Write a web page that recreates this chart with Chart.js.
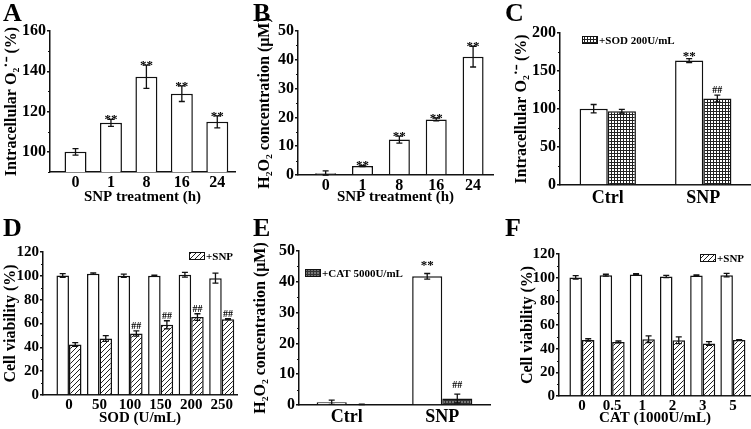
<!DOCTYPE html>
<html>
<head>
<meta charset="utf-8">
<script src="https://cdn.jsdelivr.net/npm/chart.js@4.4.1/dist/chart.umd.min.js"></script>
<style>
  body { margin: 0; background: #fff; }
  #fig { position: relative; width: 751px; height: 429px; overflow: hidden; background: #fff; }
  .panel { position: absolute; }
  .letter { position: absolute; font: bold 26px "Liberation Serif", serif; line-height: 1; color: #000; }
</style>
</head>
<body>
<div id="fig">
  <canvas class="panel" id="chartA" width="250" height="214" style="left:0;top:0"></canvas>
  <canvas class="panel" id="chartB" width="250" height="214" style="left:250px;top:0"></canvas>
  <canvas class="panel" id="chartC" width="251" height="214" style="left:500px;top:0"></canvas>
  <canvas class="panel" id="chartD" width="250" height="215" style="left:0;top:214px"></canvas>
  <canvas class="panel" id="chartE" width="250" height="215" style="left:250px;top:214px"></canvas>
  <canvas class="panel" id="chartF" width="251" height="215" style="left:500px;top:214px"></canvas>
  <div class="letter" style="left:3px;top:0">A</div>
  <div class="letter" style="left:253px;top:0">B</div>
  <div class="letter" style="left:505px;top:0">C</div>
  <div class="letter" style="left:3px;top:215px">D</div>
  <div class="letter" style="left:253px;top:215px">E</div>
  <div class="letter" style="left:505px;top:215px">F</div>
</div>
<script>
// A - intracellular superoxide over SNP time
const timeLabels = ['0', '1', '8', '16', '24'];
const o2Time = [100, 114.4, 137.3, 128.9, 114.9];
const o2TimeErr = [1.6, 1.7, 5.8, 3.9, 3];
const o2TimeSig = ['', '**', '**', '**', '**'];
const o2TimeTicks = [100, 120, 140, 160];

// B - H2O2 over SNP time
const h2o2Time = [0.6, 3.1, 12.3, 19.3, 41.1];
const h2o2TimeErr = [0.8, 0.2, 1.2, 0.5, 3.6];
const h2o2TimeSig = ['', '**', '**', '**', '**'];
const h2o2Ticks = [0, 10, 20, 30, 40, 50];

// C - superoxide with / without SOD
const groupLabels = ['Ctrl', 'SNP'];
const o2Plain = [100.4, 163.8];
const o2PlainErr = [5.5, 2.6];
const o2PlainSig = ['', '**'];
const o2Sod = [97.1, 113.9];
const o2SodErr = [2.4, 4.4];
const o2SodSig = ['', '##'];
const o2Ticks = [0, 50, 100, 150, 200];

// D - viability vs SOD dose
const sodLabels = ['0', '50', '100', '150', '200', '250'];
const sodAlone = [100.3, 101.8, 100.1, 100.1, 100.9, 98];
const sodAloneErr = [1.5, 0.6, 1.4, 0.5, 2, 4.2];
const sodSnp = [42.4, 47.4, 51.6, 58.9, 65.4, 63.6];
const sodSnpErr = [1.6, 2.4, 2.2, 3.4, 2.8, 0.4];
const sodSnpSig = ['', '', '##', '##', '##', '##'];
const viabTicks = [0, 20, 40, 60, 80, 100, 120];

// E - H2O2 with / without CAT
const h2o2Plain = [0.9, 41.8];
const h2o2PlainErr = [0.7, 0.9];
const h2o2PlainSig = ['', '**'];
const h2o2Cat = [0.2, 2.1];
const h2o2CatErr = [0.1, 1.4];
const h2o2CatSig = ['', '##'];

// F - viability vs CAT dose
const catLabels = ['0', '0.5', '1', '2', '3', '5'];
const catAlone = [100.2, 102.1, 102.7, 101, 101.8, 102.1];
const catAloneErr = [1.5, 0.8, 0.6, 1, 0.5, 1.5];
const catSnp = [47.4, 45.7, 48, 47.1, 44.3, 47.4];
const catSnpErr = [1, 0.8, 2.8, 2.8, 1.6, 0.3];

const SERIF = '"Liberation Serif", "Times New Roman", serif';
const INK = '#111';

function hatchPattern() {
    const c = document.createElement('canvas');
    c.width = c.height = 5;
    const g = c.getContext('2d');
    g.fillStyle = '#fff';
    g.fillRect(0, 0, 5, 5);
    g.strokeStyle = '#222';
    g.lineWidth = 1;
    g.beginPath();
    g.moveTo(0, 5); g.lineTo(5, 0);
    g.moveTo(-1, 1); g.lineTo(1, -1);
    g.moveTo(4, 6); g.lineTo(6, 4);
    g.stroke();
    return g.createPattern(c, 'repeat');
}

function gridPattern(bg, line, size) {
    const c = document.createElement('canvas');
    c.width = c.height = size;
    const g = c.getContext('2d');
    g.fillStyle = bg;
    g.fillRect(0, 0, size, size);
    g.fillStyle = line;
    g.fillRect(0, 0, size, 1);
    g.fillRect(0, 0, 1, size);
    return g.createPattern(c, 'repeat');
}

const fills = {
    white: '#fff',
    hatch: hatchPattern(),
    grid: gridPattern('#fff', '#222', 3),
    dark: gridPattern('#777', '#333', 3)
};

// error bars + significance marks
const errorBars = {
    id: 'errorBars',
    afterDatasetsDraw(chart) {
        const ctx = chart.ctx;
        const y = chart.scales.y;
        chart.data.datasets.forEach((ds, i) => {
            const meta = chart.getDatasetMeta(i);
            meta.data.forEach((bar, j) => {
                const v = ds.data[j].y;
                const e = ds.err[j];
                const top = y.getPixelForValue(v + e);
                const bot = y.getPixelForValue(Math.max(v - e, y.min));
                ctx.save();
                ctx.strokeStyle = INK;
                ctx.lineWidth = 1.3;
                ctx.beginPath();
                ctx.moveTo(bar.x, top); ctx.lineTo(bar.x, bot);
                ctx.moveTo(bar.x - 3, top); ctx.lineTo(bar.x + 3, top);
                ctx.moveTo(bar.x - 3, bot); ctx.lineTo(bar.x + 3, bot);
                ctx.stroke();
                if (ds.sig && ds.sig[j]) {
                    const star = ds.sig[j] === '**';
                    ctx.fillStyle = '#000';
                    ctx.font = (star ? 'bold 13px ' : 'bold 10px ') + SERIF;
                    ctx.textAlign = 'center';
                    ctx.textBaseline = 'alphabetic';
                    ctx.fillText(ds.sig[j], bar.x, top - 2 + (star ? 6 : 0) - (ds.lift || 0));
                }
                ctx.restore();
            });
        });
    }
};

// minor ticks halfway between the major y ticks
const minorTicks = {
    id: 'minorTicks',
    afterDraw(chart) {
        const y = chart.scales.y;
        const ctx = chart.ctx;
        const vals = y.ticks.map(t => t.value);
        const minors = [];
        for (let i = 0; i < vals.length - 1; i++) minors.push((vals[i] + vals[i + 1]) / 2);
        if (vals[0] > y.min) minors.push(vals[0] - (vals[1] - vals[0]) / 2);
        ctx.save();
        ctx.strokeStyle = INK;
        ctx.lineWidth = 1.2;
        ctx.beginPath();
        minors.filter(v => v >= y.min).forEach(v => {
            const py = Math.round(y.getPixelForValue(v)) + 0.5;
            ctx.moveTo(y.right - 2, py);
            ctx.lineTo(y.right, py);
        });
        ctx.stroke();
        ctx.restore();
    }
};

// small pattern legend inside the plot area
const patLegend = {
    id: 'patLegend',
    afterDraw(chart, args, o) {
        if (!o.text) return;
        const a = chart.chartArea;
        const ctx = chart.ctx;
        const x = o.fromRight ? a.right - o.dx : a.left + o.dx;
        const y = a.top + o.dy;
        ctx.save();
        ctx.fillStyle = fills[o.fill];
        ctx.fillRect(x, y - 4, 16, 8);
        ctx.strokeStyle = INK;
        ctx.lineWidth = 1;
        ctx.strokeRect(x + 0.5, y - 3.5, 15, 7);
        ctx.fillStyle = '#000';
        ctx.font = 'bold 11px ' + SERIF;
        ctx.textBaseline = 'middle';
        ctx.fillText(o.text, x + 17, y + 1);
        ctx.restore();
    }
};

function bars(values, err, sig, fill, pct, lift) {
    return {
        data: values.map((v, i) => ({ x: i, y: v })),
        err: err,
        sig: sig,
        lift: lift,
        backgroundColor: fills[fill],
        borderColor: INK,
        borderWidth: 1.5,
        categoryPercentage: pct,
        barPercentage: 1
    };
}

function makeChart(id, p) {
    return new Chart(document.getElementById(id), {
        type: 'bar',
        data: { datasets: p.datasets },
        plugins: [errorBars, minorTicks, patLegend],
        options: {
            responsive: false,
            animation: false,
            events: [],
            layout: { padding: p.pad },
            plugins: {
                legend: { display: false },
                tooltip: { enabled: false },
                patLegend: p.legend || {}
            },
            scales: {
                x: {
                    type: 'linear',
                    offset: false,
                    min: p.xMin,
                    max: p.xMax,
                    afterBuildTicks: s => { s.ticks = p.labels.map((_, i) => ({ value: i })); },
                    afterFit: s => { s.height = p.xH; },
                    grid: { display: false, drawTicks: false, offset: false },
                    border: { color: INK, width: 1.5 },
                    ticks: {
                        callback: v => p.labels[Math.round(v)],
                        color: '#000',
                        font: { family: SERIF, size: p.xTickSize || 15, weight: 'bold' },
                        padding: p.xTickPad || 1,
                        maxRotation: 0,
                        autoSkip: false
                    },
                    title: {
                        display: !!p.xTitle,
                        text: p.xTitle,
                        color: '#000',
                        font: { family: SERIF, size: 15, weight: 'bold' },
                        padding: { top: 0, bottom: p.xTitlePad || 0 }
                    }
                },
                y: {
                    min: p.yMin,
                    max: p.yMax,
                    afterBuildTicks: s => { s.ticks = p.yTicks.map(v => ({ value: v })); },
                    afterFit: s => { s.width = p.yW; },
                    grid: { drawOnChartArea: false, tickLength: 3, color: INK, lineWidth: 1.5 },
                    border: { color: INK, width: 1.5 },
                    ticks: {
                        color: '#000',
                        font: { family: SERIF, size: p.yTickSize || 15, weight: 'bold' },
                        padding: 1
                    },
                    title: {
                        display: true,
                        text: p.yTitle,
                        color: '#000',
                        font: { family: SERIF, size: 16, weight: 'bold' },
                        padding: { top: p.yTitlePad || 0, bottom: 0 }
                    }
                }
            }
        }
    });
}

makeChart('chartA', {
    datasets: [bars(o2Time, o2TimeErr, o2TimeSig, 'white', 0.62)],
    labels: timeLabels, xMin: -0.72, xMax: 4.5,
    yMin: 90, yMax: 160, yTicks: o2TimeTicks,
    yTitle: 'Intracellular O\u2082\u02D9\u207B (%)', xTitle: 'SNP treatment (h)',
    pad: { left: 0, right: 15, top: 31, bottom: 0 }, yW: 50, xH: 42, xTitlePad: 8,
    yTickSize: 16, xTickSize: 16, yTitlePad: 2
});

makeChart('chartB', {
    datasets: [bars(h2o2Time, h2o2TimeErr, h2o2TimeSig, 'white', 0.57)],
    labels: timeLabels, xMin: -0.75, xMax: 4.54,
    yMin: 0, yMax: 50, yTicks: h2o2Ticks,
    yTitle: 'H\u2082O\u2082 concentration (\u03BCM)', xTitle: 'SNP treatment (h)',
    pad: { left: 0, right: 7, top: 31, bottom: 0 }, yW: 48, xH: 39, xTitlePad: 8,
    yTickSize: 16, xTickSize: 16, yTitlePad: 5
});

makeChart('chartC', {
    datasets: [
        bars(o2Plain, o2PlainErr, o2PlainSig, 'white', 0.59, 3),
        bars(o2Sod, o2SodErr, o2SodSig, 'grid', 0.59)
    ],
    labels: groupLabels, xMin: -0.5, xMax: 1.5,
    yMin: 0, yMax: 200, yTicks: o2Ticks,
    yTitle: 'Intracellular O\u2082\u02D9\u207B (%)',
    pad: { left: 10, right: 0, top: 33, bottom: 0 }, yW: 50, xH: 29,
    yTickSize: 16, xTickSize: 18, xTickPad: 3, yTitlePad: 2,
    legend: { text: '+SOD 200U/mL', fill: 'grid', dx: 22, dy: 7 }
});

makeChart('chartD', {
    datasets: [
        bars(sodAlone, sodAloneErr, null, 'white', 0.82),
        bars(sodSnp, sodSnpErr, sodSnpSig, 'hatch', 0.82)
    ],
    labels: sodLabels, xMin: -0.85, xMax: 5.5,
    yMin: 0, yMax: 120, yTicks: viabTicks,
    yTitle: 'Cell viability (%)', xTitle: 'SOD (U/mL)',
    pad: { left: 0, right: 13, top: 38, bottom: 0 }, yW: 43, xH: 34, xTitlePad: 2,
    yTitlePad: 1,
    legend: { text: '+SNP', fill: 'hatch', dx: 48, dy: 4, fromRight: true }
});

makeChart('chartE', {
    datasets: [
        bars(h2o2Plain, h2o2PlainErr, h2o2PlainSig, 'white', 0.63, 8),
        bars(h2o2Cat, h2o2CatErr, h2o2CatSig, 'dark', 0.63, 4)
    ],
    labels: groupLabels, xMin: -0.5, xMax: 1.5,
    yMin: 0, yMax: 50, yTicks: h2o2Ticks,
    yTitle: 'H\u2082O\u2082 concentration (\u03BCM)',
    pad: { left: 0, right: 10, top: 37, bottom: 0 }, yW: 49, xH: 24,
    yTickSize: 16, xTickSize: 18, xTickPad: 2, yTitlePad: 1,
    legend: { text: '+CAT 5000U/mL', fill: 'dark', dx: 6, dy: 22 }
});

makeChart('chartF', {
    datasets: [
        bars(catAlone, catAloneErr, null, 'white', 0.83),
        bars(catSnp, catSnpErr, null, 'hatch', 0.83)
    ],
    labels: catLabels, xMin: -0.76, xMax: 5.6,
    yMin: 0, yMax: 120, yTicks: viabTicks,
    yTitle: 'Cell viability (%)', xTitle: 'CAT (1000U/mL)',
    pad: { left: 17, right: 0, top: 40, bottom: 0 }, yW: 42, xH: 33, xTitlePad: 2,
    yTitlePad: 1,
    legend: { text: '+SNP', fill: 'hatch', dx: 51, dy: 4, fromRight: true }
});
</script>
</body>
</html>
